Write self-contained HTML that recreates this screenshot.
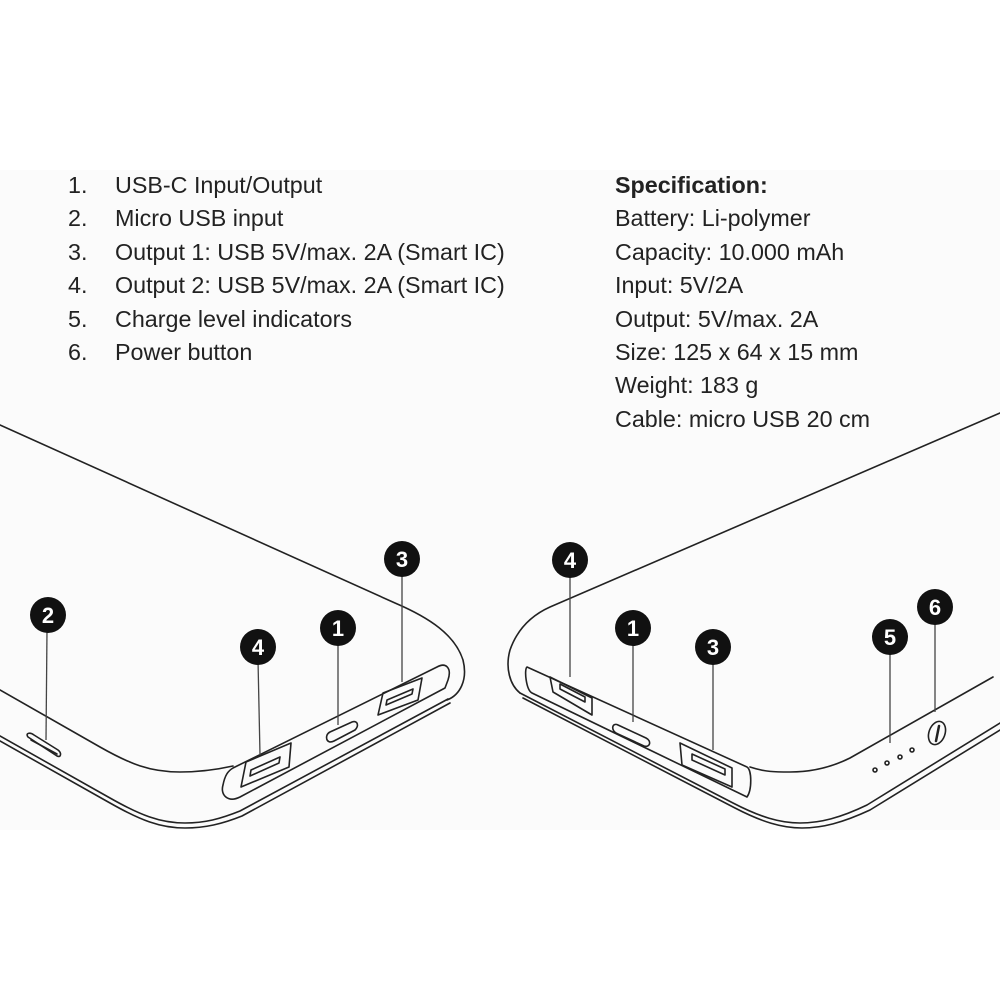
<!DOCTYPE html>
<html><head><meta charset="utf-8"><style>
html,body{margin:0;padding:0;background:#fff}
svg{display:block}
text{font-family:"Liberation Sans",sans-serif;fill:#222;font-size:23.3px}
.c text{fill:#fff;font-weight:bold;font-size:22px;text-anchor:middle}
</style></head><body>
<svg width="1000" height="1000" viewBox="0 0 1000 1000">
<rect x="0" y="170" width="1000" height="660" fill="#fbfbfb"/>
<g>
<text x="68" y="193">1.</text><text x="115" y="193">USB-C Input/Output</text>
<text x="68" y="226">2.</text><text x="115" y="226">Micro USB input</text>
<text x="68" y="260">3.</text><text x="115" y="260">Output 1: USB 5V/max. 2A (Smart IC)</text>
<text x="68" y="293">4.</text><text x="115" y="293">Output 2: USB 5V/max. 2A (Smart IC)</text>
<text x="68" y="327">5.</text><text x="115" y="327">Charge level indicators</text>
<text x="68" y="360">6.</text><text x="115" y="360">Power button</text>
<text x="615" y="193" font-weight="bold">Specification:</text>
<text x="615" y="226">Battery: Li-polymer</text>
<text x="615" y="260">Capacity: 10.000 mAh</text>
<text x="615" y="293">Input: 5V/2A</text>
<text x="615" y="327">Output: 5V/max. 2A</text>
<text x="615" y="360">Size: 125 x 64 x 15 mm</text>
<text x="615" y="393">Weight: 183 g</text>
<text x="615" y="427">Cable: micro USB 20 cm</text>
</g>
<g fill="none" stroke="#222" stroke-width="1.6" stroke-linecap="round" stroke-linejoin="round">
<path d="M0,425 L395,603 C430,618 455,635 463,660 C468,680 460,695 447,700"/>
<path d="M0,690 L100,747 C130,764 150,772 180,772 C200,772 215,770 233,766"/>
<path d="M0,736 L110,798 C140,815 160,823 185,823 C205,823 220,819 240,811 L448,699"/>
<path d="M0,741 L110,803 C140,820 160,828 185,828 C205,828 222,824 242,816 L450,703"/>
<path d="M233,768 L437,667 C446,662 452,668 448,680 L445,688 L240,797 C228,803 220,795 223,785 C225,775 228,771 233,768 Z"/>
<polygon points="241,787 246,762 291,743 289,767"/>
<path d="M251,770 L280,757 L279,763 L250,776 Z"/>
<path d="M330,732 L352,722 C358,720 359,726 355,730 L334,741 C326,745 324,735 330,732 Z"/>
<polygon points="378,715 383,693 422,678 418,700"/>
<path d="M387,700 L413,689 L412,694 L386,705 Z"/>
<path d="M28,737 C25,733 30,732 34,735 L58,750 C62,753 61,758 57,756 Z"/>
<path d="M31,740 L57,754"/>
<path d="M1000,413 L550,607 C530,616 517,630 510,650 C505,668 510,685 520,693"/>
<path d="M520,693 L733,803 C760,817 780,823 800,823 C820,823 840,818 867,805 L1000,723"/>
<path d="M523,698 L735,808 C762,822 782,828 802,828 C822,828 842,823 870,810 L1000,730"/>
<path d="M750,767 C765,772 775,772 790,772 C810,772 830,768 850,758 L993,677"/>
<path d="M527,667 L747,767 C752,770 752,790 747,797 L532,693 C526,690 524,669 527,667 Z"/>
<polygon points="550,677 553,692 592,715 592,698"/>
<path d="M560,684 L585,697 L585,702 L560,689 Z"/>
<path d="M618,725 L646,738 C652,741 650,748 644,746 L618,734 C610,731 612,722 618,725 Z"/>
<polygon points="680,743 682,765 732,787 732,768"/>
<path d="M692,754 L725,769 L725,775 L692,760 Z"/>
<ellipse cx="937" cy="733" rx="8" ry="12" transform="rotate(20 937 733)"/>
<path d="M939,726 L936,741" stroke-width="2.5"/>
<circle cx="875" cy="770" r="2"/><circle cx="887" cy="763" r="2"/><circle cx="900" cy="757" r="2"/><circle cx="912" cy="750" r="2"/>
</g>
<g stroke="#444" stroke-width="1.3">
<line x1="47" y1="630" x2="46" y2="740"/>
<line x1="402" y1="575" x2="402" y2="682"/>
<line x1="258" y1="660" x2="260" y2="755"/>
<line x1="338" y1="640" x2="338" y2="725"/>
<line x1="570" y1="575" x2="570" y2="677"/>
<line x1="633" y1="640" x2="633" y2="722"/>
<line x1="713" y1="660" x2="713" y2="750"/>
<line x1="890" y1="650" x2="890" y2="743"/>
<line x1="935" y1="620" x2="935" y2="712"/>
</g>
<g class="c">
<circle cx="48" cy="615" r="18" fill="#111"/><text x="48" y="623">2</text>
<circle cx="402" cy="559" r="18" fill="#111"/><text x="402" y="567">3</text>
<circle cx="258" cy="647" r="18" fill="#111"/><text x="258" y="655">4</text>
<circle cx="338" cy="628" r="18" fill="#111"/><text x="338" y="636">1</text>
<circle cx="570" cy="560" r="18" fill="#111"/><text x="570" y="568">4</text>
<circle cx="633" cy="628" r="18" fill="#111"/><text x="633" y="636">1</text>
<circle cx="713" cy="647" r="18" fill="#111"/><text x="713" y="655">3</text>
<circle cx="890" cy="637" r="18" fill="#111"/><text x="890" y="645">5</text>
<circle cx="935" cy="607" r="18" fill="#111"/><text x="935" y="615">6</text>
</g>
</svg>
</body></html>
